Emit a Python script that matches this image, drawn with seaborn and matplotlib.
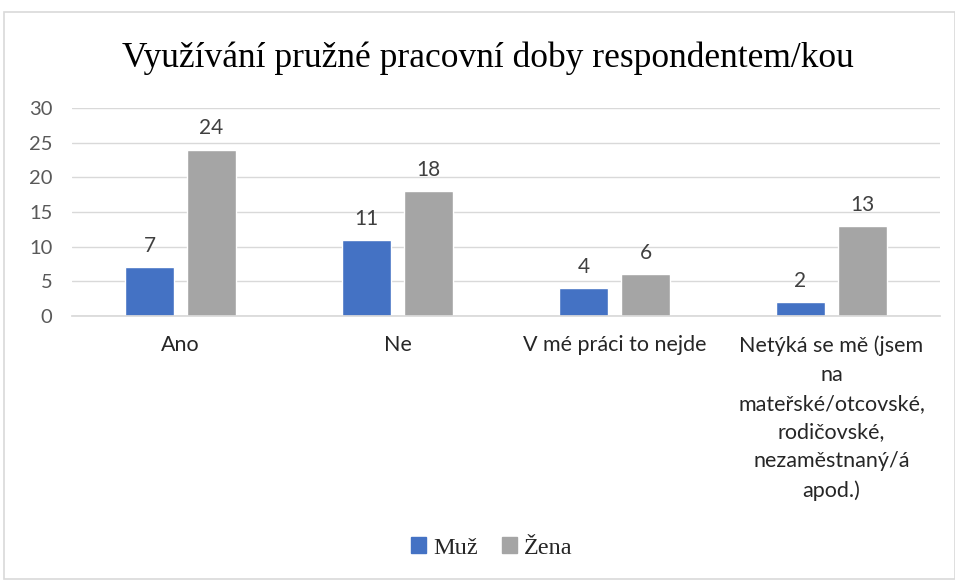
import matplotlib
matplotlib.use("Agg")
import matplotlib.pyplot as plt
import seaborn as sns
import pandas as pd
from matplotlib.patches import Rectangle

categories = ["Ano", "Ne", "V mé práci to nejde",
              "Netýká se mě (jsem\nna\nmateřské/otcovské,\nrodičovské,\nnezaměstnaný/á\napod.)"]
series_names = ["Muž", "Žena"]
muz = [7, 11, 4, 2]
zena = [24, 18, 6, 13]
yticks = [0, 5, 10, 15, 20, 25, 30]
title = "Využívání pružné pracovní doby respondentem/kou"

df = pd.DataFrame({
    "cat": categories * 2,
    "val": muz + zena,
    "ser": [series_names[0]] * 4 + [series_names[1]] * 4,
})

sns.set_theme(style="white")
plt.rcParams["font.family"] = ["Lato", "DejaVu Sans"]

fig = plt.figure(figsize=(9.55, 5.81), dpi=100)
ax = fig.add_axes([72 / 955, 1 - 316 / 581, 868 / 955, 208 / 581])

palette = {"Muž": "#4472C4", "Žena": "#A5A5A5"}
sns.barplot(data=df, x="cat", y="val", hue="ser", palette=palette,
            width=0.572, gap=0.21, ax=ax, legend=False, saturation=1)

ax.set_xlim(-0.5, 3.5)
ax.set_ylim(0, 30)
ax.set_yticks(yticks)
ax.yaxis.grid(True, color="#D9D9D9", linewidth=1)
ax.set_axisbelow(True)
for s in ["top", "right", "left"]:
    ax.spines[s].set_visible(False)
ax.spines["bottom"].set_color("#D9D9D9")
ax.set_xlabel("")
ax.set_ylabel("")
ax.tick_params(axis="x", length=0, labelsize=15.5, colors="#262626", pad=14)
ax.tick_params(axis="y", length=0, labelsize=14.5, colors="#595959", pad=14)
for lbl in ax.get_xticklabels():
    lbl.set_va("top")
    lbl.set_linespacing(1.55)

for cont in ax.containers:
    ax.bar_label(cont, padding=8, fontsize=15, color="#404040")

fig.text(488 / 955, 1 - 58 / 581, title, ha="center", va="center",
         fontsize=25.5, family=["Liberation Serif", "DejaVu Serif"], color="#000000")

handles = [Rectangle((0, 0), 1, 1, color=palette[n]) for n in series_names]
fig.legend(handles, series_names, loc="center", bbox_to_anchor=(492 / 955, 1 - 548 / 581),
           ncol=2, frameon=False, prop={"family": ["Liberation Serif", "DejaVu Serif"], "size": 17.5},
           handlelength=0.6, handleheight=0.6, handletextpad=0.3, columnspacing=1.0)

border = Rectangle((4 / 955, 2 / 581), 1 - 4 / 955, 1 - 14 / 581, transform=fig.transFigure,
                   fill=False, edgecolor="#D9D9D9", linewidth=1.2)
fig.patches.append(border)

fig.savefig("out.png", dpi=100)
